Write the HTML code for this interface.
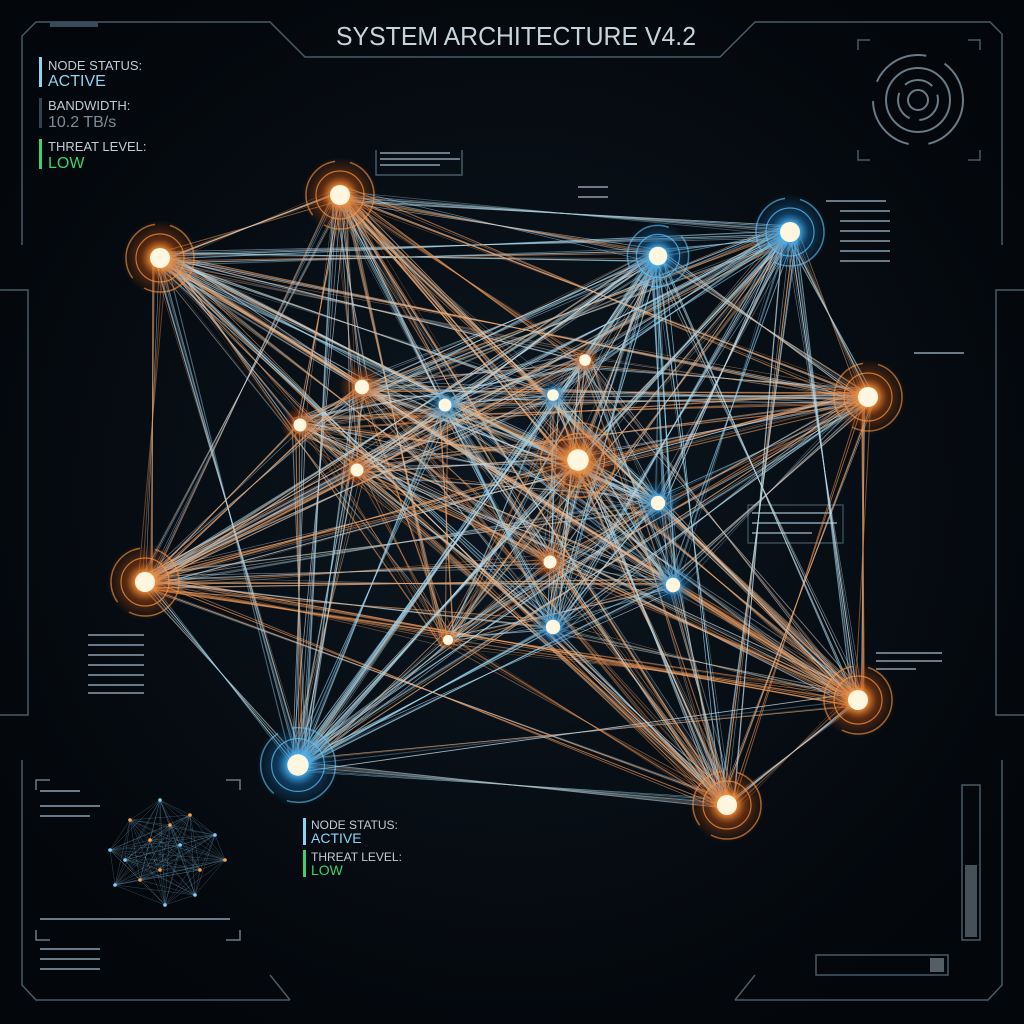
<!DOCTYPE html>
<html><head><meta charset="utf-8"><style>
html,body{margin:0;padding:0;background:#05090d;width:1024px;height:1024px;overflow:hidden}
svg{display:block}
text{font-family:"Liberation Sans",sans-serif}
</style></head><body>
<svg id="s" width="1024" height="1024" viewBox="0 0 1024 1024" xmlns="http://www.w3.org/2000/svg">
<defs>
<radialGradient id="bg" cx="50%" cy="48%" r="60%"><stop offset="0" stop-color="#0c1620"/><stop offset="1" stop-color="#03060a"/></radialGradient>
<radialGradient id="go" r="50%"><stop offset="0" stop-color="#fff2c0"/><stop offset="0.2" stop-color="#ffa040"/><stop offset="0.5" stop-color="#c05010" stop-opacity="0.45"/><stop offset="1" stop-color="#c05010" stop-opacity="0"/></radialGradient>
<radialGradient id="gb" r="50%"><stop offset="0" stop-color="#e8fbff"/><stop offset="0.2" stop-color="#50c0ff"/><stop offset="0.5" stop-color="#1870b0" stop-opacity="0.45"/><stop offset="1" stop-color="#1870b0" stop-opacity="0"/></radialGradient>
</defs>
<rect width="1024" height="1024" fill="url(#bg)"/>
<g fill="none" stroke="#4a5a66" stroke-width="1.5">
<path d="M22,245 L22,36 L36,22 L270,22 L305,57 L720,57 L755,22 L990,22 L1002,34 L1002,245"/>
<path d="M22,760 L22,985 L36,1000 L290,1000"/>
<path d="M1002,760 L1002,985 L988,1000 L735,1000"/>
<path d="M0,290 L28,290 L28,715 L0,715"/>
<path d="M1024,290 L996,290 L996,715 L1024,715"/>
<path d="M290,1000 L270,975" /><path d="M735,1000 L755,975"/>
<path d="M36,790 L36,780 L50,780 M226,780 L240,780 L240,790 M36,930 L36,940 L50,940 M226,940 L240,940 L240,930" stroke="#6a7a86"/>
<path d="M858,50 L858,40 L870,40 M968,40 L980,40 L980,50 M858,150 L858,160 L870,160 M968,160 L980,160 L980,150" stroke="#4a5a66"/>
<rect x="962" y="785" width="18" height="155" stroke="#4a5a66"/>
<rect x="816" y="955" width="132" height="20" stroke="#4a5a66"/>
<rect x="748" y="505" width="95" height="38" stroke="#3a4a55"/>
<path d="M376,150 L376,175 L462,175 L462,150"/>
</g>
<g fill="#6a7a86" font-size="5">
<rect x="380" y="152" width="70" height="2"/><rect x="380" y="158" width="80" height="2"/><rect x="380" y="164" width="60" height="2"/>
<rect x="826" y="200" width="60" height="2"/><rect x="840" y="210" width="50" height="2"/><rect x="840" y="220" width="50" height="2"/><rect x="840" y="230" width="50" height="2"/><rect x="840" y="240" width="50" height="2"/><rect x="840" y="250" width="50" height="2"/><rect x="840" y="260" width="50" height="2"/>
<rect x="88" y="634" width="56" height="2"/><rect x="88" y="644" width="56" height="2"/><rect x="88" y="654" width="56" height="2"/><rect x="88" y="664" width="56" height="2"/><rect x="88" y="674" width="56" height="2"/><rect x="88" y="684" width="56" height="2"/><rect x="88" y="692" width="56" height="2"/>
<rect x="752" y="512" width="80" height="2"/><rect x="752" y="522" width="85" height="2"/><rect x="752" y="532" width="60" height="2"/>
<rect x="876" y="652" width="66" height="2"/><rect x="876" y="660" width="66" height="2"/><rect x="876" y="668" width="40" height="2"/>
<rect x="914" y="352" width="50" height="2"/><rect x="578" y="186" width="30" height="2"/><rect x="578" y="196" width="30" height="2"/>
<rect x="40" y="790" width="40" height="2"/><rect x="40" y="805" width="60" height="2"/><rect x="40" y="815" width="50" height="2"/>
<rect x="40" y="918" width="190" height="2"/><rect x="40" y="948" width="60" height="2"/><rect x="40" y="958" width="60" height="2"/><rect x="40" y="968" width="60" height="2"/>
</g>
<rect x="50" y="22" width="48" height="5" fill="#3a4a58"/>
<rect x="965" y="865" width="12" height="72" fill="#8899a5" opacity="0.5"/>
<rect x="930" y="958" width="14" height="14" fill="#8899a5" opacity="0.6"/>
<g fill="none" stroke="#6a7a86" stroke-width="2">
<circle cx="918" cy="100" r="45" stroke-dasharray="60 20"/><circle cx="918" cy="100" r="32"/><circle cx="918" cy="100" r="20" stroke-dasharray="30 10"/><circle cx="918" cy="100" r="10"/>
</g>
<text x="516" y="45" fill="#c8d4dc" font-size="26" text-anchor="middle" textLength="360" lengthAdjust="spacingAndGlyphs">SYSTEM ARCHITECTURE V4.2</text>
<rect x="39" y="57" width="3" height="30" fill="#8ed4f0"/>
<text x="48" y="70" fill="#c0ccd4" font-size="13">NODE STATUS:</text>
<text x="48" y="86" fill="#8ed4f0" font-size="16">ACTIVE</text>
<rect x="39" y="98" width="3" height="30" fill="#34424e"/>
<text x="48" y="110" fill="#c0ccd4" font-size="13">BANDWIDTH:</text>
<text x="48" y="127" fill="#7a8a96" font-size="16">10.2 TB/s</text>
<rect x="39" y="139" width="3" height="30" fill="#3fd070"/>
<text x="48" y="151" fill="#c0ccd4" font-size="13">THREAT LEVEL:</text>
<text x="48" y="168" fill="#3fd070" font-size="16">LOW</text>
<rect x="303" y="818" width="3" height="27" fill="#8ed4f0"/>
<text x="311" y="829" fill="#c0ccd4" font-size="12">NODE STATUS:</text>
<text x="311" y="843" fill="#8ed4f0" font-size="14">ACTIVE</text>
<rect x="303" y="850" width="3" height="27" fill="#3fd070"/>
<text x="311" y="861" fill="#c0ccd4" font-size="12">THREAT LEVEL:</text>
<text x="311" y="875" fill="#3fd070" font-size="14">LOW</text>
<g id="mini"></g>
<g id="lines"></g>
<g id="nodes"></g>
</svg>
<script>
var O=[[160,258,1],[340,195,1],[868,397,1],[145,582,1],[858,700,1],[727,805,1],[578,460,1.1],[362,387,.6],[300,425,.5],[357,470,.5],[585,360,.4],[550,562,.5],[448,640,.3]];
var B=[[658,256,.9],[790,232,1],[298,765,1.1],[445,405,.5],[553,395,.4],[658,503,.6],[673,585,.6],[553,627,.6]];
var N=O.map(function(a){return a.concat('o')}).concat(B.map(function(a){return a.concat('b')}));
var seed=7;function r(){seed=(seed*16807)%2147483647;return seed/2147483647;}
var L=document.getElementById('lines'),h='';
for(var i=0;i<N.length;i++)for(var j=i+1;j<N.length;j++){
 var a=N[i],b=N[j];var w=a[2]+b[2];var k=Math.round(w*3.5);
 for(var m=0;m<k;m++){var c=r()<0.5?(a[3]=='o'?'#f0a060':'#8fd0f0'):(b[3]=='o'?'#e89050':'#a0d8f0');
 if(r()<0.3)c='#c8dce8';
 var ox=(r()-.5)*16,oy=(r()-.5)*16;
 h+='<line x1="'+(a[0]+ox)+'" y1="'+(a[1]+oy)+'" x2="'+(b[0]-ox)+'" y2="'+(b[1]-oy)+'" stroke="'+c+'" stroke-width="'+(0.4+r()*0.8).toFixed(2)+'" opacity="'+(0.3+r()*0.4).toFixed(2)+'"/>';}
}
L.innerHTML=h;
var M=document.getElementById('mini'),mm='';
var mp=[[110,850],[130,820],[160,800],[190,815],[215,835],[200,870],[165,905],[140,880],[125,860],[150,840],[180,845],[160,870],[195,895],[225,860],[115,885],[170,825]];
for(var q=0;q<mp.length;q++)for(var z=q+1;z<mp.length;z++)mm+='<line x1="'+mp[q][0]+'" y1="'+mp[q][1]+'" x2="'+mp[z][0]+'" y2="'+mp[z][1]+'" stroke="#7fb8d8" stroke-width="0.4" opacity="0.45"/>';
mp.forEach(function(p,q){mm+='<circle cx="'+p[0]+'" cy="'+p[1]+'" r="1.8" fill="'+(q%2?'#ffa040':'#80d0ff')+'"/>'});
M.innerHTML=mm;
var G=document.getElementById('nodes'),g='';
N.forEach(function(n){var s=n[2],col=n[3]=='o'?'#ff9a40':'#60c8ff',gr=n[3]=='o'?'go':'gb';
 g+='<circle cx="'+n[0]+'" cy="'+n[1]+'" r="'+(38*s)+'" fill="url(#'+gr+')"/>';
 if(s>=0.9){g+='<circle cx="'+n[0]+'" cy="'+n[1]+'" r="'+(34*s)+'" fill="none" stroke="'+col+'" stroke-width="1.5" opacity="0.6" stroke-dasharray="70 15"/>';
 g+='<circle cx="'+n[0]+'" cy="'+n[1]+'" r="'+(24*s)+'" fill="none" stroke="'+col+'" stroke-width="1.2" opacity="0.7"/>';}
 g+='<circle cx="'+n[0]+'" cy="'+n[1]+'" r="'+(7*s+3)+'" fill="#fff6e0"/>';});
G.innerHTML=g;
</script>
</body></html>
